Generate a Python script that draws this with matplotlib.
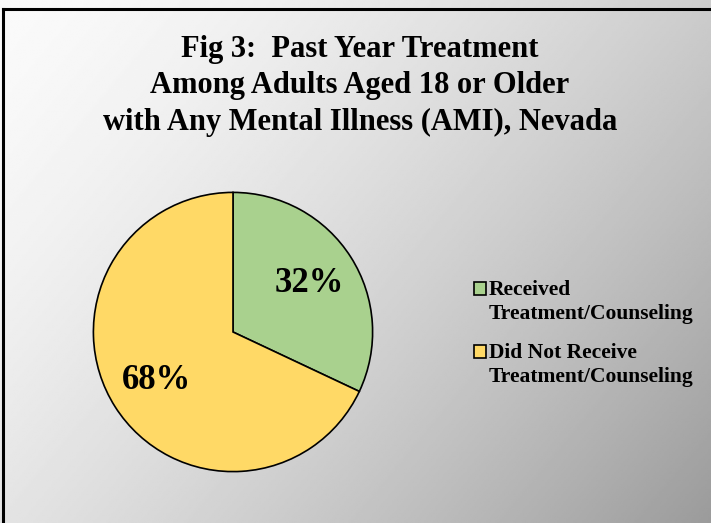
import matplotlib
matplotlib.use("Agg")
import matplotlib.pyplot as plt
import numpy as np
from matplotlib.lines import Line2D
from matplotlib.patches import Rectangle
from matplotlib.legend_handler import HandlerPatch

plt.rcParams['font.family'] = ['Liberation Serif', 'DejaVu Serif']
plt.rcParams['font.weight'] = 'bold'

# data
labels = ['Received\nTreatment/Counseling', 'Did Not Receive\nTreatment/Counseling']
shares = [32, 68]
colors = ['#A9D18E', '#FFD966']
title = 'Fig 3:  Past Year Treatment\nAmong Adults Aged 18 or Older\nwith Any Mental Illness (AMI), Nevada'

W, H = 711, 523
fig = plt.figure(figsize=(W / 100, H / 100), dpi=100)

# grey gradient background, light top-left to dark bottom-right
bg = fig.add_axes([0, 0, 1, 1])
xx, yy = np.meshgrid(np.linspace(0, 1, 400), np.linspace(0, 1, 300))
t = 0.62 * xx + 0.38 * yy
shade = (250 - 95 * t ** 1.5) / 255
bg.imshow(shade, cmap='gray', vmin=0, vmax=1, aspect='auto', extent=[0, 1, 1, 0])
bg.set_xlim(0, 1)
bg.set_ylim(1, 0)
bg.axis('off')

# border on top and left
fig.add_artist(Line2D([2.5 / W, 1], [1 - 9 / H, 1 - 9 / H], color='black', lw=2.2))
fig.add_artist(Line2D([2.5 / W, 2.5 / W], [0, 1 - 9 / H], color='black', lw=2.2))

fig.text(0.506, 1 - 86 / H, title, ha='center', va='center', fontsize=22,
         fontweight='bold', linespacing=1.33)

cx, cy, r = 233, 332, 141
ax = fig.add_axes([(cx - r) / W, (H - cy - r) / H, 2 * r / W, 2 * r / H])
wedges, texts, autotexts = ax.pie(
    shares, colors=colors, startangle=90, counterclock=False,
    autopct=lambda p: f'{p:.0f}%', pctdistance=0.65,
    wedgeprops=dict(edgecolor='black', linewidth=1.2),
    textprops=dict(fontsize=25, fontweight='bold'))
ax.set_xlim(-1.01, 1.01)
ax.set_ylim(-1.01, 1.01)
ax.set_aspect('equal')


# legend keys sit level with the first line of each two-line label
def top_key(legend, orig_handle, xdescent, ydescent, width, height, fontsize):
    return Rectangle((-xdescent, -ydescent + 0.62 * fontsize), width, height)


leg_fs = 15.5
leg = fig.legend(wedges, labels, loc='upper left', bbox_to_anchor=(455 / W, 1 - 261 / H),
                 frameon=False, fontsize=leg_fs, handlelength=0.55, handleheight=0.55,
                 handletextpad=0.12, labelspacing=0.9,
                 handler_map={w: HandlerPatch(patch_func=top_key) for w in wedges})
for txt in leg.get_texts():
    txt.set_fontweight('bold')
    txt.set_linespacing(1.25)

fig.savefig('out.png', dpi=100)
